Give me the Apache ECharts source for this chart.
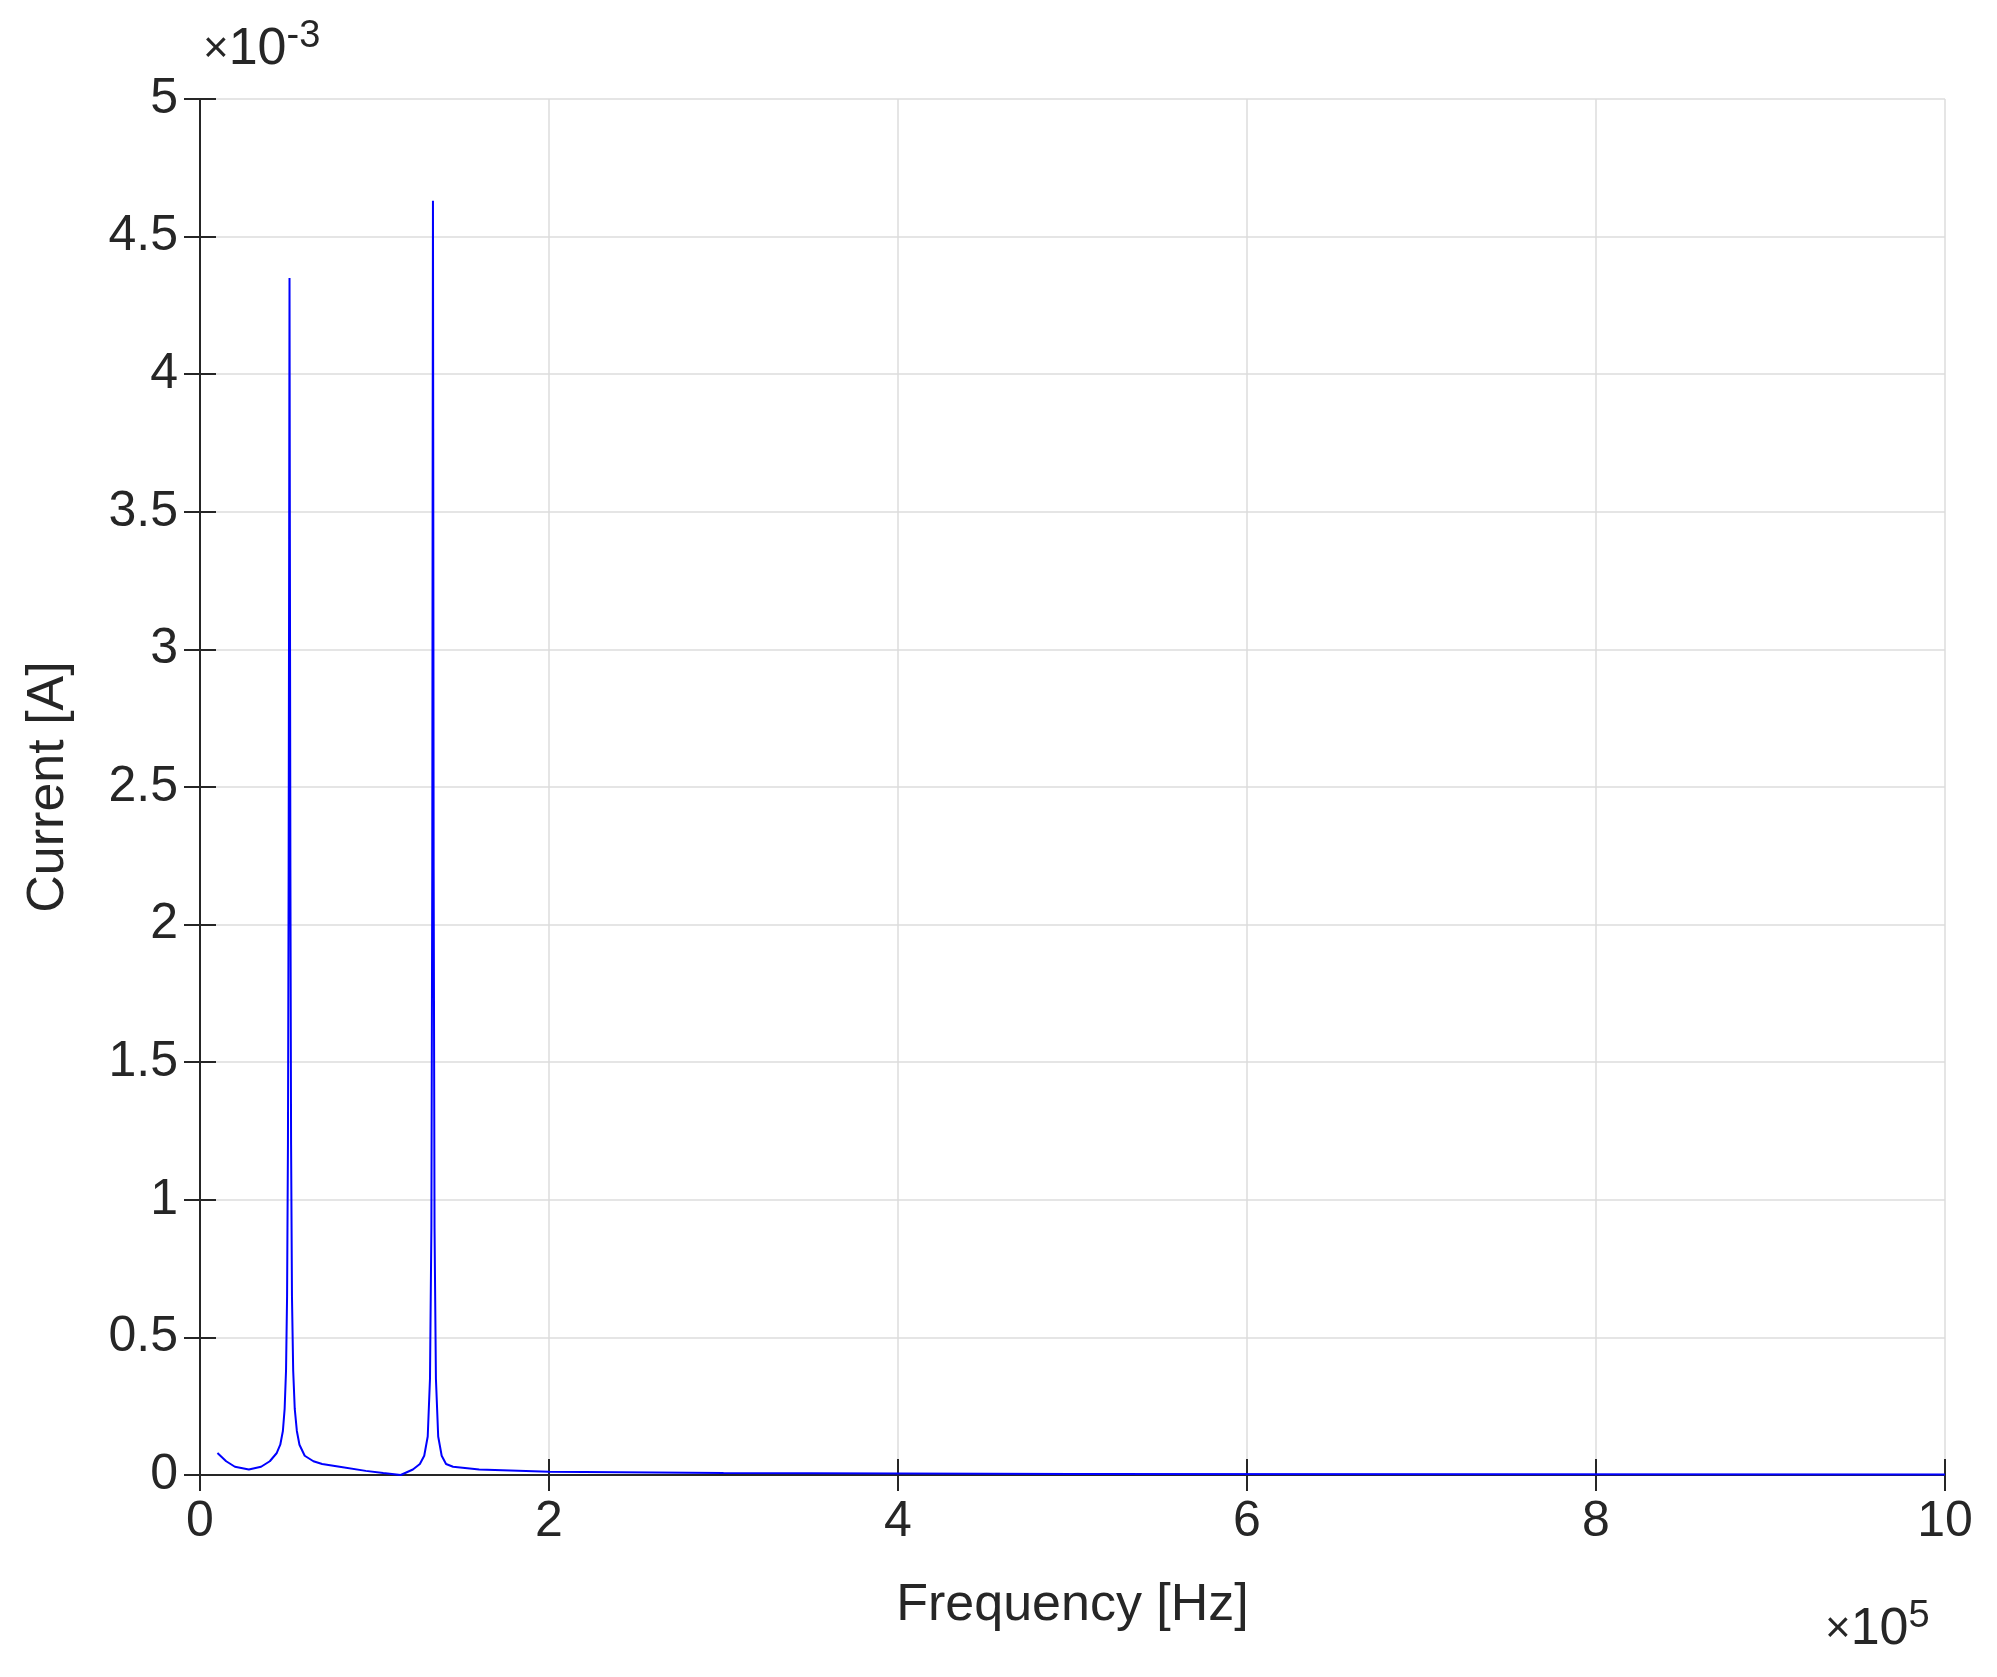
<!DOCTYPE html>
<html>
<head>
<meta charset="utf-8">
<script src="https://cdn.jsdelivr.net/npm/echarts@6/dist/echarts.min.js"></script>
<style>html,body{margin:0;padding:0;background:#fff}#chart{width:1997px;height:1677px}</style>
</head>
<body>
<div id="chart"></div>
<script>
// frequency in Hz, current in mA (axis shows x10^-3)
var freq = [10000,15000,20000,28000,35000,40000,44000,46000,47500,48500,49300,49900,50400,50800,51100,51300,51500,51800,52200,52700,53400,54300,55500,57000,60000,65000,70000,80000,95000,105000,115000,122000,126000,128500,130500,131800,132600,133100,133350,133500,133650,133900,134400,135200,136500,138500,141000,145000,160000,200000,300000,500000,1000000];
var current = [0.08,0.05,0.03,0.02,0.03,0.05,0.08,0.11,0.16,0.24,0.38,0.65,1.2,2.2,3.4,4.35,3.4,2.2,1.2,0.65,0.38,0.24,0.16,0.11,0.07,0.05,0.04,0.03,0.015,0.007,0.0,0.02,0.04,0.07,0.14,0.35,0.9,2.2,3.8,4.63,3.8,2.2,0.9,0.35,0.14,0.07,0.04,0.03,0.02,0.012,0.007,0.004,0.002];
var xTicks = [0,2,4,6,8,10];
var yTicks = [0,0.5,1,1.5,2,2.5,3,3.5,4,4.5,5];

var font = 'Liberation Sans';
var lineData = freq.map(function(f, i) { return [f, current[i]]; });

var chart = echarts.init(document.getElementById('chart'));
var axisLine = { show: true, lineStyle: { color: '#262626', width: 2 } };
var tick = { show: true, inside: true, length: 16, lineStyle: { color: '#262626', width: 2 } };
var grid = { show: true, lineStyle: { color: '#dcdcdc', width: 1.5 } };
var rich = {
    a: { fontSize: 44, fontFamily: font, fill: '#262626' },
    b: { fontSize: 52, fontFamily: font, fill: '#262626' },
    c: { fontSize: 38, fontFamily: font, fill: '#262626', verticalAlign: 'top', padding: [0, 0, 26, 0] }
};
chart.setOption({
    animation: false,
    textStyle: { fontFamily: font },
    grid: { left: 200, right: 52, top: 99, bottom: 202 },
    xAxis: [
        {
            type: 'value', min: 0, max: 1000000, interval: 200000,
            axisLine: axisLine, axisTick: tick, splitLine: grid,
            axisLabel: {
                fontSize: 50, color: '#262626', margin: 22,
                formatter: function(v) { var n = v / 100000; return xTicks.indexOf(n) >= 0 ? String(n) : ''; }
            },
            name: 'Frequency [Hz]', nameLocation: 'middle', nameGap: 105,
            nameTextStyle: { fontSize: 52, color: '#262626' }
        },
        {
            type: 'value', position: 'top', min: 0, max: 1000000, interval: 200000,
            axisLine: axisLine, axisTick: tick, axisLabel: { show: false }, splitLine: { show: false }
        }
    ],
    yAxis: [
        {
            type: 'value', min: 0, max: 5, interval: 0.5,
            axisLine: axisLine, axisTick: tick, splitLine: grid,
            axisLabel: {
                fontSize: 50, color: '#262626', margin: 22,
                formatter: function(v) { return yTicks.indexOf(v) >= 0 ? String(v) : ''; }
            },
            name: 'Current [A]', nameLocation: 'middle', nameGap: 125,
            nameTextStyle: { fontSize: 52, color: '#262626' }
        },
        {
            type: 'value', position: 'right', min: 0, max: 5, interval: 0.5,
            axisLine: axisLine, axisTick: tick, axisLabel: { show: false }, splitLine: { show: false }
        }
    ],
    graphic: [
        { type: 'text', left: 203, top: 18, style: { text: '{a|\u00d7}{b|10}{c|-3}', rich: rich } },
        { type: 'text', left: 1825, top: 1598, style: { text: '{a|\u00d7}{b|10}{c|5}', rich: rich } }
    ],
    series: [
        {
            type: 'line', data: lineData, showSymbol: false, smooth: false,
            lineStyle: { color: '#0000ff', width: 2 }, clip: true
        }
    ]
});
</script>
</body>
</html>
